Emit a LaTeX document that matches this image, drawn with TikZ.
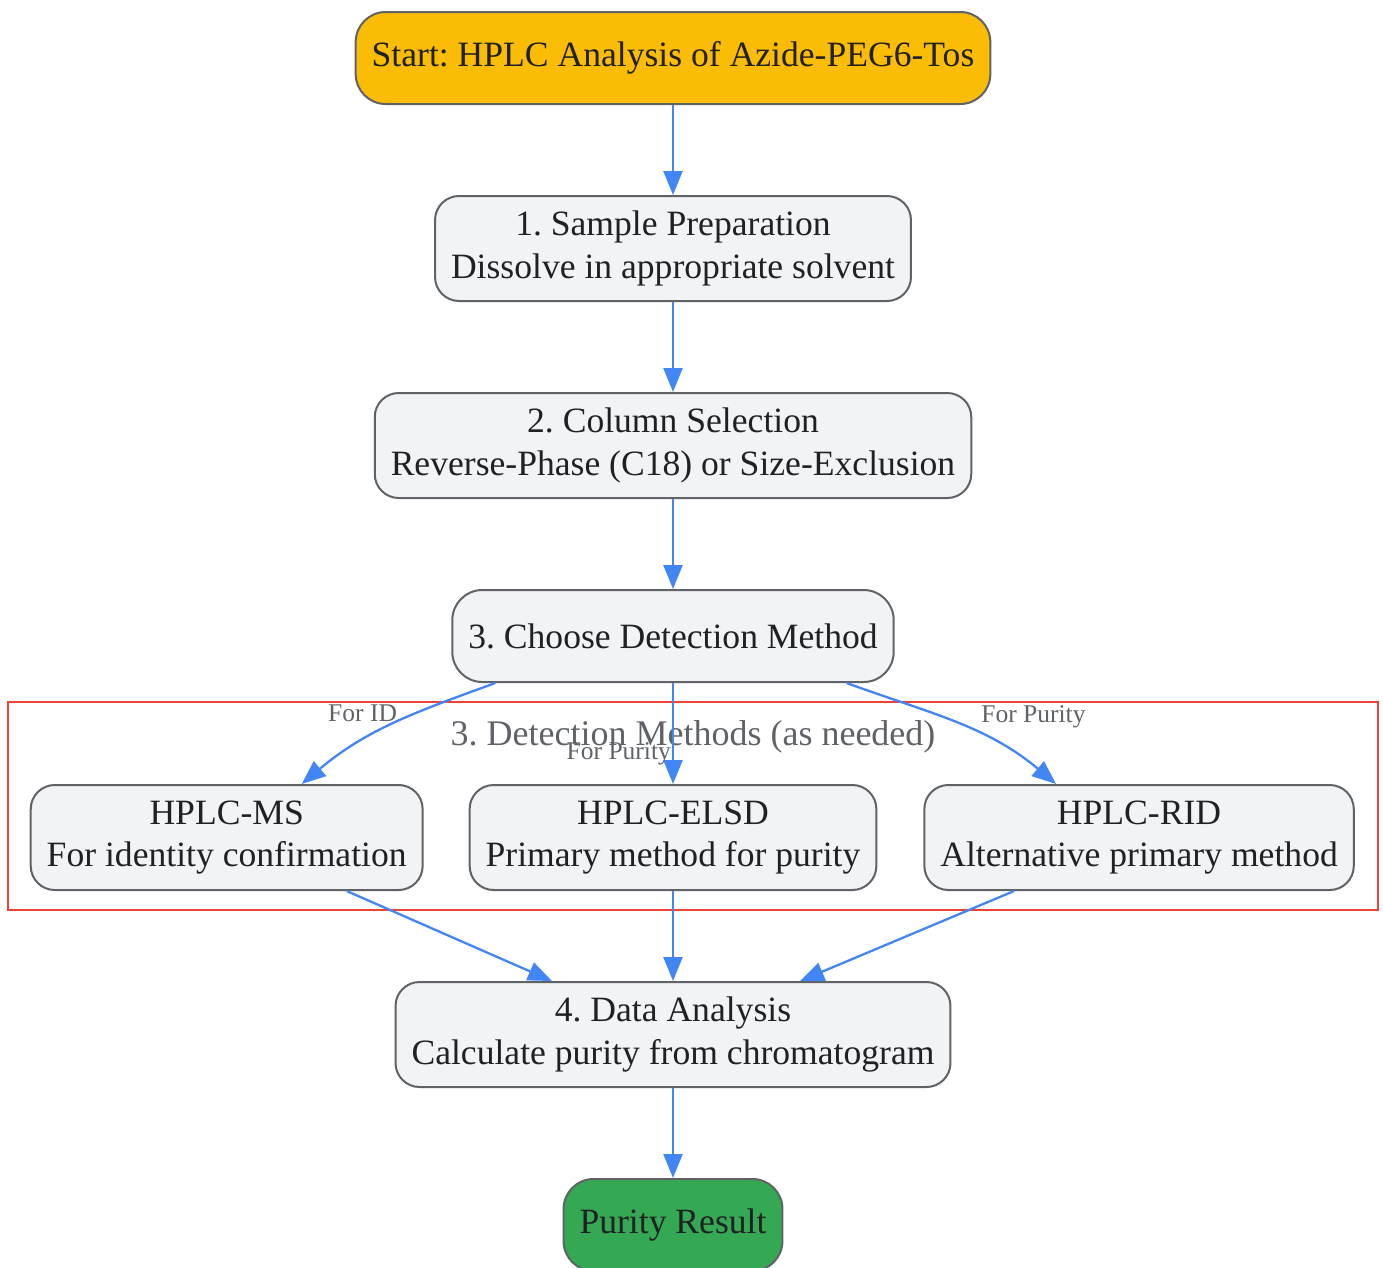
\documentclass[tikz,border=0pt]{standalone}
\usepackage{fontspec}
\setmainfont{Liberation Serif}
\usetikzlibrary{arrows.meta,positioning}
\definecolor{flowblue}{HTML}{4285F4}
\definecolor{boxgrey}{HTML}{F1F3F4}
\definecolor{linegrey}{HTML}{5F6368}
\definecolor{startyellow}{HTML}{FBBC05}
\definecolor{endgreen}{HTML}{34A853}
\definecolor{grpred}{HTML}{EA4335}
\definecolor{inktext}{HTML}{202124}
\frenchspacing

\begin{document}
\begin{tikzpicture}[x=1pt,y=-1pt,>={Triangle[length=24pt,width=19pt]},node distance=90pt,
  box/.style={draw=linegrey,line width=2pt,fill=boxgrey,rounded corners=24pt,align=center,
    inner xsep=16pt,inner ysep=0pt,minimum height=105pt,text=inktext,font=\fontsize{35.6}{42.5}\selectfont},
  pill/.style={box,minimum height=92pt,rounded corners=30pt},
  lbl/.style={text=linegrey,inner sep=1pt,font=\fontsize{25.5}{30}\selectfont},
  grp/.style={draw=grpred,line width=2pt,minimum width=1370pt,minimum height=208pt},
  flow/.style={->,color=flowblue,line width=2.3pt}]
\useasboundingbox (0,0) rectangle (1383,1267);

% detection group frame
\node[grp] (detect) at (693,806) {};
\node[text=linegrey,font=\fontsize{36}{42}\selectfont] (detectlbl) at (693,737) {3. Detection Methods (as needed)};

\node[pill,fill=startyellow] (start) at (673,58) {Start: HPLC Analysis of Azide-PEG6-Tos};
\node[box] (prep) [below=of start] {1. Sample Preparation\\Dissolve in appropriate solvent};
\node[box] (column) [below=of prep] {2. Column Selection\\Reverse-Phase (C18) or Size-Exclusion};
\node[pill] (choose) [below=of column] {3. Choose Detection Method};
\node[box] (elsd) [below=101pt of choose] {HPLC-ELSD\\Primary method for purity};
\node[box] (ms) [left=45pt of elsd] {HPLC-MS\\For identity confirmation};
\node[box] (rid) [right=46pt of elsd] {HPLC-RID\\Alternative primary method};
\node[box] (data) [below=of elsd] {4. Data Analysis\\Calculate purity from chromatogram};
\node[pill,fill=endgreen] (result) [below=of data] {Purity Result};

\path[flow] (start) edge (prep)
(prep) edge (column)
(column) edge (choose)
([xshift=44pt]choose.south west) edge [out=200,in=40] node[lbl,pos=0.38,left=16pt] {For ID} ([xshift=75pt]ms.north)
(choose) edge node[lbl,pos=0.7,left=0pt] {For Purity} (elsd)
([xshift=-48pt]choose.south east) edge [out=-20,in=140] node[lbl,pos=0.42,right=38pt] {For Purity} ([xshift=-83pt]rid.north)
([xshift=120pt]ms.south) edge ([xshift=-121pt]data.north)
(elsd) edge (data)
([xshift=-125pt]rid.south) edge ([xshift=127pt]data.north)
(data) edge (result);
\end{tikzpicture}
\end{document}
